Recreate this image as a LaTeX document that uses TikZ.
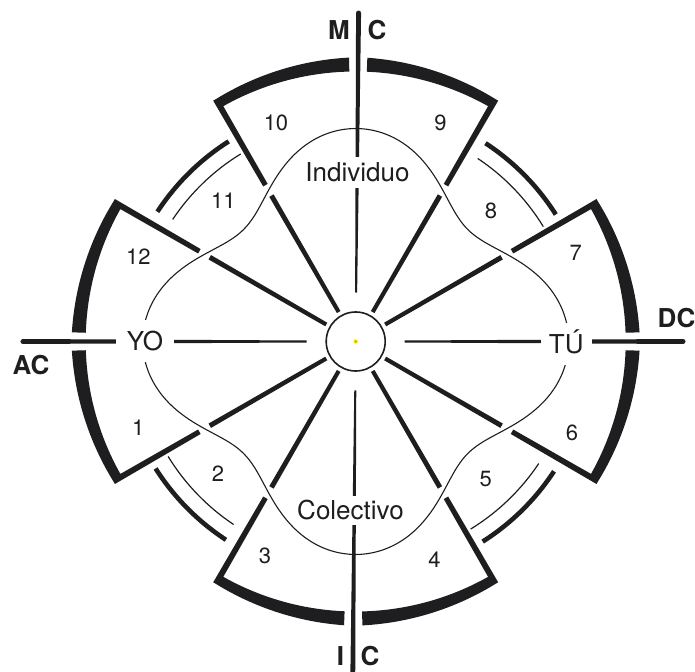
\documentclass[tikz,border=0pt]{standalone}
\usepackage{fontspec}
\setmainfont{TeX Gyre Heros}
\usetikzlibrary{calc}
\definecolor{ink}{RGB}{30,30,32}
\definecolor{dotc}{RGB}{250,235,0}
\tikzset{
  lab/.style={fill=white, font=\fontsize{26}{26}\selectfont, text=ink, text height=18.5pt, text depth=0pt, inner sep=0pt},
  num/.style={font=\fontsize{22}{22}\selectfont, text=ink, text height=15.6pt, text depth=0pt, inner sep=0pt},
  axl/.style={font=\bfseries\fontsize{26}{26}\selectfont, text=ink, text height=18.5pt, text depth=0pt, inner sep=0pt},
}
\begin{document}
\begin{tikzpicture}[x=1pt,y=1pt,line join=miter]
\useasboundingbox (-355.7,-329.5) rectangle (339.3,341.5);
\fill[white] (-355.7,-329.5) rectangle (339.3,341.5);
\def\g{1.85}
% cardinal sector frames with their edge spokes
\foreach \p/\c in {0/0,90/89.5,180/180,270/269.5}{
  \foreach \s in {1,-1}{
    \pgfmathsetmacro\a{\p+30*\s}
    \pgfmathsetmacro\b{\c+\s*\g}
    \fill[ink] (\b:284) -- plot[variable=\t,domain=0:1,samples=30] ({\b+\t*(\a-\b)}:{284-4.2*\t})
      -- ($(\a:279.8)+(\a+90:\s*3)$) -- ($(\a:180.5)+(\a+90:\s*2.55)$)
      -- ($(\a:180.5)+(\a-90:\s*2.55)$) -- ($(\a:270)+(\a-90:\s*3)$)
      arc[start angle={\a-\s*0.64}, end angle=\b, radius=270] -- cycle;
    \fill[ink] ($(\a:168.5)+(\a+90:2.5)$) -- ($(\a:34)+(\a+90:2.05)$)
      -- ($(\a:34)+(\a-90:2.05)$) -- ($(\a:168.5)+(\a-90:2.5)$) -- cycle;
  }
}
% double arcs of houses 2, 5, 8, 11
\foreach \b in {30,120,210,300}{
  \draw[ink, line width=4.6] (\b+2.4:237) arc[start angle=\b+2.4, end angle=\b+26.8, radius=237];
  \draw[ink, line width=1.2] (\b+1.5:220) arc[start angle=\b+1.5, end angle=\b+26.3, radius=220];
}
% wavy curve
\draw[ink, line width=1.1] plot[variable=\t, domain=0:358.5, samples=240, smooth cycle] (\t:{187.3+27.25*cos(4*\t)-1.58*cos(8*\t)});
% cardinal axes (tapered)
\foreach \d/\R in {0/327.3,89.5/328.5,180/332.7,269.5/345}{
  \fill[ink] ($(\d:49)+(\d+90:1)$) -- ($(\d:\R)+(\d+90:2.5)$)
    arc[start angle=\d+90, end angle=\d-90, radius=2.5] -- ($(\d:49)+(\d-90:1)$) -- cycle;
}
% center
\draw[ink, line width=1.6] (0,0) circle[radius=29.5];
\fill[dotc] (0,0) circle[radius=2.3];
\fill[dotc!60!black] (0,0) circle[radius=0.9];
% labels
\node[lab, minimum width=58, minimum height=42] (yo) at (-210.7,0.3) {YO};
\node[lab, minimum width=51, minimum height=42] (tu) at (210.6,-3) {TÚ};
\node[lab, minimum height=31, inner xsep=3] (ind) at (1.8,169) {Individuo};
\node[lab, minimum height=29, inner xsep=3] (col) at (-5.2,-168.5) {Colectivo};
% house numbers
\node[num] (h10) at (-79.7,219) {10};
\node[num] (h9) at (84.8,219) {9};
\node[num] (h11) at (-132.4,140.7) {11};
\node[num] (h8) at (135.3,130.7) {8};
\node[num] (h12) at (-217.4,84.8) {12};
\node[num] (h7) at (220.1,89) {7};
\node[num] (h1) at (-217.4,-86) {1};
\node[num] (h6) at (216.3,-91.5) {6};
\node[num] (h2) at (-137.7,-132.5) {2};
\node[num] (h5) at (130.1,-137.5) {5};
\node[num] (h3) at (-90.7,-214) {3};
\node[num] (h4) at (78.8,-218) {4};
% axis labels
\node[axl] (mcm) at (-16.7,311) {M};
\node[axl] (mcc) at (21.3,311) {C};
\node[axl] (ac) at (-324.7,-23.5) {AC};
\node[axl] (dc) at (320.8,23.5) {DC};
\node[axl] (ici) at (-15.2,-314.5) {I};
\node[axl] (icc) at (14.3,-314.5) {C};
\end{tikzpicture}
\end{document}
